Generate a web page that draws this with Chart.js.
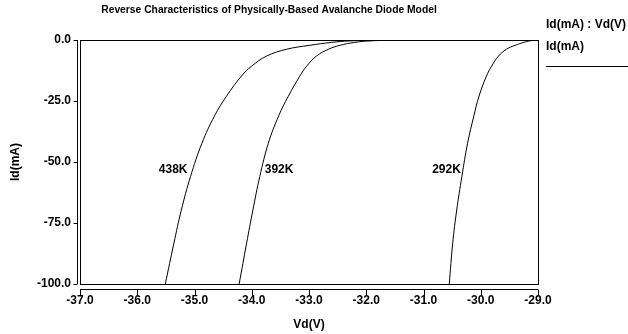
<!DOCTYPE html>
<html>
<head>
<meta charset="utf-8">
<script src="https://cdn.jsdelivr.net/npm/chart.js@4.4.0/dist/chart.umd.min.js"></script>
<style>
html, body { margin: 0; padding: 0; background: #fff; }
</style>
</head>
<body>
<canvas id="chart-area" width="628" height="334"></canvas>
<script>
// Id(mA) levels shared by the three traces, and Vd(V) where each trace crosses them
var current = [-100, -83.3, -69.7, -56.0, -42.3, -31.1, -23.0, -14.8, -10.7, -6.6, -3.8, -2.2, -1.0, -0.4, 0];
var vd438 = [-35.51, -35.36, -35.23, -35.07, -34.87, -34.65, -34.44, -34.18, -34.00, -33.74, -33.39, -32.99, -32.61, -32.30, -31.70];
var vd392 = [-34.22, -34.09, -33.98, -33.86, -33.71, -33.53, -33.36, -33.16, -33.04, -32.87, -32.66, -32.46, -32.20, -31.95, -31.40];
var vd292 = [-30.55, -30.49, -30.42, -30.33, -30.23, -30.12, -30.03, -29.90, -29.81, -29.69, -29.55, -29.40, -29.25, -29.15, -29.00];
var temps = ['438K', '392K', '292K'];
var xRange = [-37, -29];
var yRange = [-100, 0];

var FONT = 'Liberation Sans, Arial, sans-serif';

function toPoints(vd) {
	return vd.map(function (v, i) { return { x: v, y: current[i] }; });
}

var traces = [vd438, vd392, vd292];

var decorations = {
	id: 'decorations',
	afterDraw: function (chart) {
		var ctx = chart.ctx;
		var a = chart.chartArea;
		var xs = chart.scales.x;
		var ys = chart.scales.y;
		ctx.save();
		ctx.strokeStyle = '#000';
		ctx.lineWidth = 1;
		// plot frame
		ctx.strokeRect(Math.round(a.left) + 0.5, Math.round(a.top) + 0.5,
			Math.round(a.right - a.left), Math.round(a.bottom - a.top));

		// detached x axis line with ticks
		var ay = Math.round(a.bottom) + 5.5;
		ctx.beginPath();
		ctx.moveTo(a.left, ay);
		ctx.lineTo(a.right, ay);
		xs.ticks.forEach(function (t) {
			var px = Math.round(xs.getPixelForValue(t.value)) + 0.5;
			ctx.moveTo(px, ay);
			ctx.lineTo(px, ay + 6);
		});
		// detached y axis line with ticks
		var ax = Math.round(a.left) - 2.5;
		ctx.moveTo(ax, a.top);
		ctx.lineTo(ax, a.bottom);
		ys.ticks.forEach(function (t) {
			var py = Math.round(ys.getPixelForValue(t.value)) + 0.5;
			ctx.moveTo(ax, py);
			ctx.lineTo(ax - 4, py);
		});
		ctx.stroke();

		// temperature labels beside each trace
		ctx.fillStyle = '#000';
		ctx.font = 'bold 12px ' + FONT;
		ctx.textBaseline = 'middle';
		var offs = [[-3, 'right'], [5, 'left'], [-1, 'right']];
		traces.forEach(function (vd, i) {
			var pt = chart.getDatasetMeta(i).data[3];
			ctx.textAlign = offs[i][1];
			ctx.fillText(temps[i], pt.x + offs[i][0], pt.y - 7);
		});

		// legend block on the right
		ctx.textAlign = 'left';
		ctx.fillText('Id(mA) : Vd(V)', a.right + 8, 25);
		ctx.fillText('Id(mA)', a.right + 8, 47);
		ctx.beginPath();
		ctx.moveTo(a.right + 8, 66.5);
		ctx.lineTo(628, 66.5);
		ctx.stroke();
		ctx.restore();
	}
};

var config = {
	type: 'scatter',
	data: {
		datasets: traces.map(function (vd, i) {
			return {
				label: temps[i],
				data: toPoints(vd),
				showLine: true,
				borderColor: '#000',
				borderWidth: 1,
				pointRadius: 0,
				tension: 0.4,
				fill: false
			};
		})
	},
	options: {
		responsive: false,
		animation: false,
		layout: { padding: { top: 0, right: 90, bottom: 0, left: 0 } },
		plugins: {
			legend: { display: false },
			tooltip: { enabled: false },
			title: {
				display: true,
				text: 'Reverse Characteristics of Physically-Based Avalanche Diode Model',
				color: '#000',
				font: { family: FONT, weight: 'bold', size: 10.3 },
				padding: { top: 4, bottom: 23.6 }
			}
		},
		scales: {
			x: {
				type: 'linear',
				min: xRange[0],
				max: xRange[1],
				ticks: {
					stepSize: 1,
					color: '#000',
					font: { family: FONT, weight: 'bold', size: 12 },
					padding: 9,
					maxRotation: 0,
					callback: function (v) { return v.toFixed(1); }
				},
				grid: { display: false, drawTicks: false },
				border: { display: false },
				title: {
					display: true,
					text: 'Vd(V)',
					color: '#000',
					font: { family: FONT, weight: 'bold', size: 12 },
					padding: { top: 0, bottom: 2 }
				},
				afterFit: function (s) { s.height = 50; }
			},
			y: {
				min: yRange[0],
				max: yRange[1],
				ticks: {
					stepSize: 25,
					color: '#000',
					font: { family: FONT, weight: 'bold', size: 12 },
					padding: 9,
					callback: function (v) { return v.toFixed(1); }
				},
				grid: { display: false, drawTicks: false },
				border: { display: false },
				title: {
					display: true,
					text: 'Id(mA)',
					color: '#000',
					font: { family: FONT, weight: 'bold', size: 12 },
					padding: { top: 8, bottom: 0 }
				},
				afterFit: function (s) { s.width = 80; }
			}
		}
	},
	plugins: [decorations]
};

var ctx = document.getElementById('chart-area').getContext('2d');
window.myChart = new Chart(ctx, config);
</script>
</body>
</html>
